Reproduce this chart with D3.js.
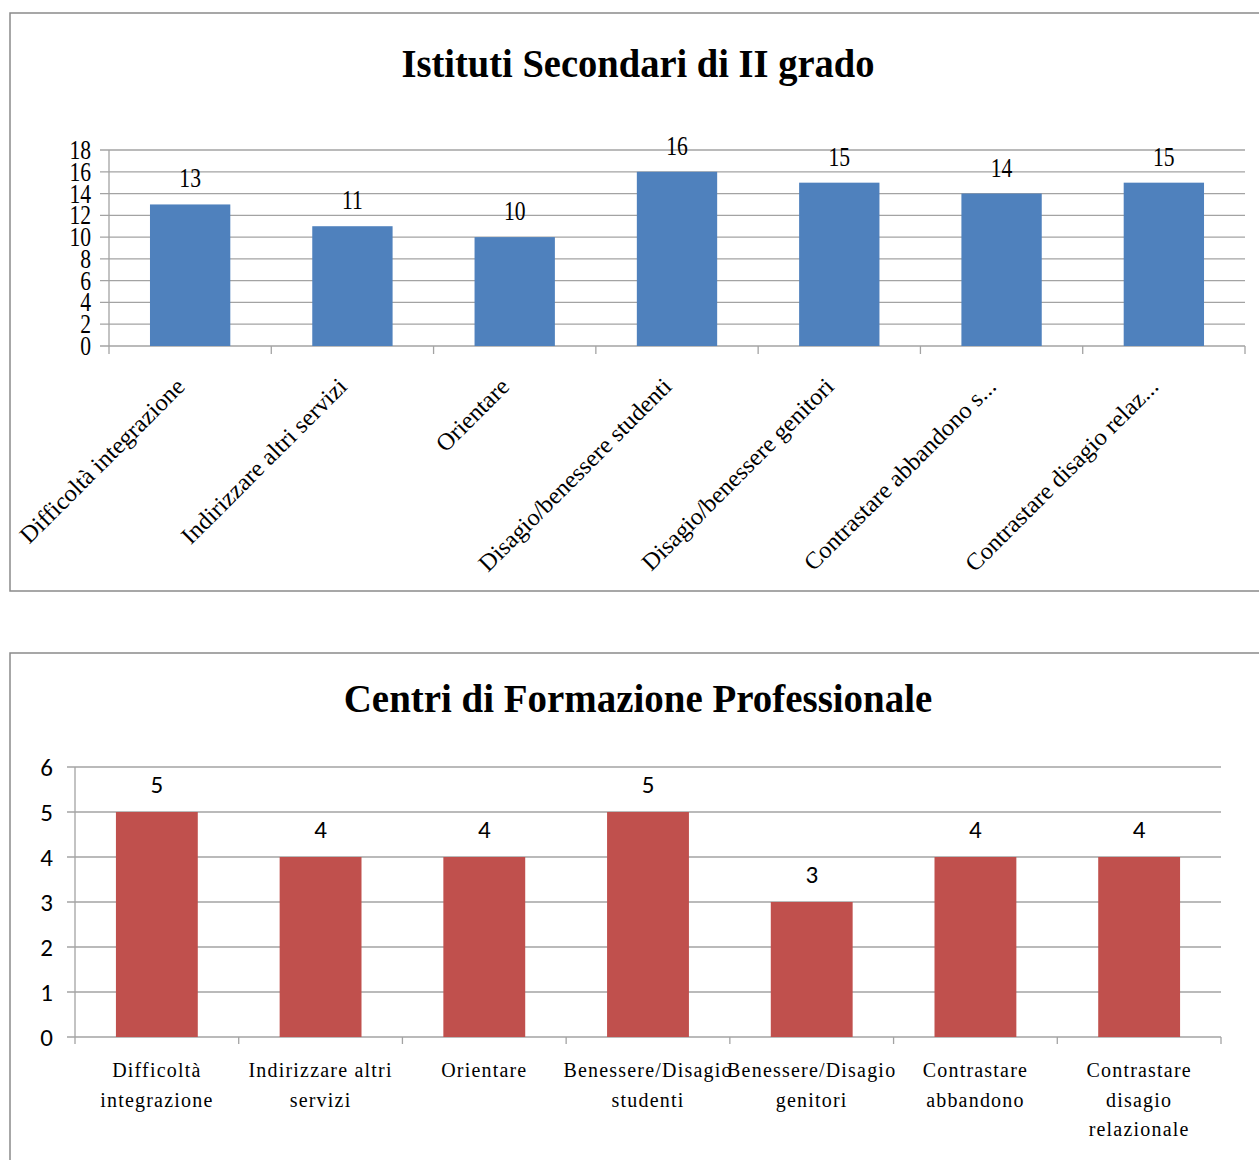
<!DOCTYPE html>
<html>
<head>
<meta charset="utf-8">
<script src="https://cdn.jsdelivr.net/npm/d3@7"></script>
<style>
  html, body { margin: 0; padding: 0; background: #fff; }
  svg { display: block; }
</style>
</head>
<body>
<svg id="chart" width="1259" height="1160"></svg>
<script>
// Istituti Secondari di II grado
const topTitle = "Istituti Secondari di II grado";
const topCategories = [
  "Difficoltà integrazione",
  "Indirizzare altri servizi",
  "Orientare",
  "Disagio/benessere studenti",
  "Disagio/benessere genitori",
  "Contrastare abbandono s...",
  "Contrastare disagio relaz..."
];
const topValues = [13, 11, 10, 16, 15, 14, 15];
const topTicks = [0, 2, 4, 6, 8, 10, 12, 14, 16, 18];

// Centri di Formazione Professionale
const bottomTitle = "Centri di Formazione Professionale";
const bottomCategories = [
  "Difficoltà integrazione",
  "Indirizzare altri servizi",
  "Orientare",
  "Benessere/Disagio studenti",
  "Benessere/Disagio genitori",
  "Contrastare abbandono",
  "Contrastare disagio relazionale"
];
const bottomValues = [5, 4, 4, 5, 3, 4, 4];
const bottomTicks = [0, 1, 2, 3, 4, 5, 6];

const svg = d3.select("#chart");
const GRID = "#a3a3a3";
const FRAME = "#8a8a8a";
const SERIF = "'Liberation Serif', 'Times New Roman', serif";
const SANS = "Carlito, Lato, 'Liberation Sans', sans-serif";

// condensed text helper: places text at (x,y) with optional rotation and horizontal squeeze
function squeezed(g, x, y, str, opts) {
  const t = g.append("text")
    .attr("transform", `translate(${x},${y}) rotate(${opts.rotate || 0}) scale(${opts.sx || 1},1)`)
    .attr("text-anchor", opts.anchor || "middle")
    .attr("font-family", opts.family)
    .attr("font-size", opts.size)
    .attr("font-weight", opts.weight || "normal")
    .attr("fill", "#000")
    .text(str);
  if (opts.spacing) t.attr("letter-spacing", opts.spacing);
  return t;
}

// ---------- top chart ----------
{
  const g = svg.append("g");
  g.append("rect").attr("x", 10).attr("y", 13).attr("width", 1270).attr("height", 578)
    .attr("fill", "#fff").attr("stroke", FRAME).attr("stroke-width", 1.5);

  const x = d3.scaleBand().domain(topCategories).range([109, 1245]).paddingInner(0.505).paddingOuter(0.2525);
  const y = d3.scaleLinear().domain([0, 18]).range([346, 150]);

  squeezed(g, 638, 77, topTitle, { family: SERIF, size: 41, weight: "bold", sx: 0.94 });

  // horizontal gridlines
  g.append("g").selectAll("line").data(topTicks).join("line")
    .attr("x1", 100).attr("x2", 1245)
    .attr("y1", d => y(d)).attr("y2", d => y(d))
    .attr("stroke", GRID).attr("stroke-width", 1.3);

  // y axis line
  g.append("line").attr("x1", 109).attr("x2", 109).attr("y1", y(18)).attr("y2", y(0))
    .attr("stroke", GRID).attr("stroke-width", 1.3);

  // category tick marks at band boundaries
  const bounds = d3.range(topCategories.length + 1).map(i => 109 + i * x.step());
  g.append("g").selectAll("line").data(bounds).join("line")
    .attr("x1", d => d).attr("x2", d => d).attr("y1", y(0)).attr("y2", y(0) + 8)
    .attr("stroke", GRID).attr("stroke-width", 1.3);

  // y tick labels
  topTicks.forEach(d => squeezed(g, 91, y(d) + 9, String(d), { family: SERIF, size: 27, anchor: "end", sx: 0.8 }));

  // bars
  g.append("g").selectAll("rect").data(topValues).join("rect")
    .attr("x", (d, i) => x(topCategories[i]))
    .attr("y", d => y(d))
    .attr("width", x.bandwidth())
    .attr("height", d => y(0) - y(d))
    .attr("fill", "#4F81BD");

  // value labels
  topValues.forEach((d, i) =>
    squeezed(g, x(topCategories[i]) + x.bandwidth() / 2, y(d) - 17, String(d), { family: SERIF, size: 27, sx: 0.8 }));

  // rotated category labels
  topCategories.forEach(c =>
    squeezed(g, x(c) + x.bandwidth() / 2 - 4, 388, c, { family: SERIF, size: 24, anchor: "end", rotate: -45, sx: 1.02 }));
}

// ---------- bottom chart ----------
{
  const g = svg.append("g");
  g.append("rect").attr("x", 10).attr("y", 653).attr("width", 1270).attr("height", 560)
    .attr("fill", "#fff").attr("stroke", FRAME).attr("stroke-width", 1.5);

  const x = d3.scaleBand().domain(bottomCategories).range([75, 1221]).paddingInner(0.5).paddingOuter(0.25);
  const y = d3.scaleLinear().domain([0, 6]).range([1037, 767]);

  squeezed(g, 638, 712, bottomTitle, { family: SERIF, size: 41, weight: "bold", sx: 0.95 });

  g.append("g").selectAll("line").data(bottomTicks).join("line")
    .attr("x1", 67).attr("x2", 1221)
    .attr("y1", d => y(d)).attr("y2", d => y(d))
    .attr("stroke", GRID).attr("stroke-width", 1.3);

  g.append("line").attr("x1", 75).attr("x2", 75).attr("y1", y(6)).attr("y2", y(0))
    .attr("stroke", GRID).attr("stroke-width", 1.3);

  const bounds = d3.range(bottomCategories.length + 1).map(i => 75 + i * x.step());
  g.append("g").selectAll("line").data(bounds).join("line")
    .attr("x1", d => d).attr("x2", d => d).attr("y1", y(0)).attr("y2", y(0) + 7)
    .attr("stroke", GRID).attr("stroke-width", 1.3);

  bottomTicks.forEach(d => squeezed(g, 53, y(d) + 9, String(d), { family: SANS, size: 25, anchor: "end" }));

  g.append("g").selectAll("rect").data(bottomValues).join("rect")
    .attr("x", (d, i) => x(bottomCategories[i]))
    .attr("y", d => y(d))
    .attr("width", x.bandwidth())
    .attr("height", d => y(0) - y(d))
    .attr("fill", "#C0504D");

  bottomValues.forEach((d, i) =>
    squeezed(g, x(bottomCategories[i]) + x.bandwidth() / 2, y(d) - 19, String(d), { family: SANS, size: 25 }));

  // wrapped category labels
  const maxW = 160;
  bottomCategories.forEach(c => {
    const cx = x(c) + x.bandwidth() / 2;
    const t = g.append("text")
      .attr("text-anchor", "middle")
      .attr("font-family", SERIF).attr("font-size", 20).attr("letter-spacing", 1.2)
      .attr("fill", "#000");
    const words = c.split(" ");
    let lines = [], cur = [];
    words.forEach(w => {
      cur.push(w);
      t.text(cur.join(" "));
      if (t.node().getComputedTextLength() > maxW && cur.length > 1) {
        cur.pop();
        lines.push(cur.join(" "));
        cur = [w];
      }
    });
    lines.push(cur.join(" "));
    t.text(null);
    lines.forEach((l, i) =>
      t.append("tspan").attr("x", cx).attr("y", 1077 + i * 29.5).text(l));
  });
}
</script>
</body>
</html>
